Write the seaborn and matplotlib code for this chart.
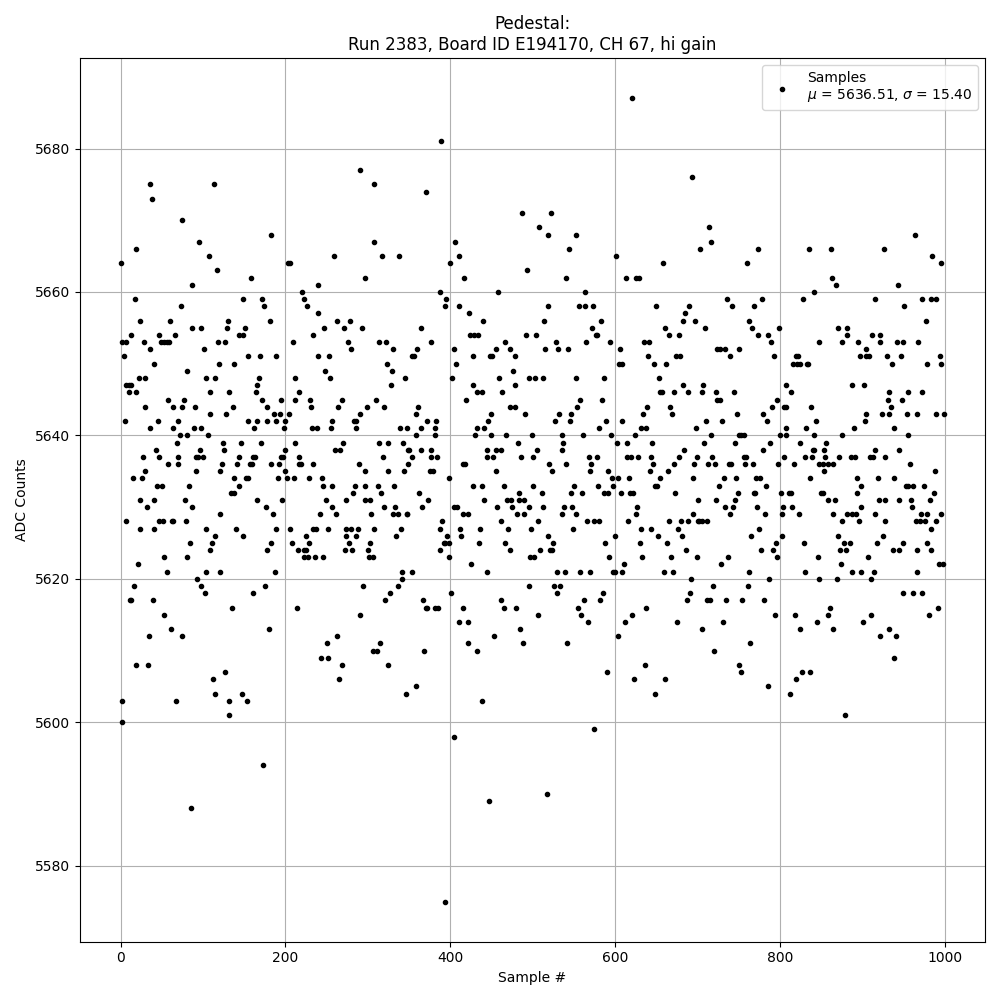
import pandas as pd
import matplotlib
matplotlib.use("Agg")
import matplotlib.pyplot as plt
import seaborn as sns

# ADC level for each row of sample_rows below
adc_levels = [
    5687, 5681, 5677, 5676, 5675, 5674, 5673, 5671, 5670, 5669, 5668, 5667, 5666, 5665, 5664, 5663,
    5662, 5661, 5660, 5659, 5658, 5657, 5656, 5655, 5654, 5653, 5652, 5651, 5650, 5649, 5648, 5647,
    5646, 5645, 5644, 5643, 5642, 5641, 5640, 5639, 5638, 5637, 5636, 5635, 5634, 5633, 5632, 5631,
    5630, 5629, 5628, 5627, 5626, 5625, 5624, 5623, 5622, 5621, 5620, 5619, 5618, 5617, 5616, 5615,
    5614, 5613, 5612, 5611, 5610, 5609, 5608, 5607, 5606, 5605, 5604, 5603, 5601, 5600, 5599, 5598,
    5594, 5590, 5589, 5588, 5575,
]

# sample numbers seen at each level
sample_rows = [
    [620],
    [389],
    [291],
    [693],
    [35, 113, 308],
    [370],
    [38],
    [487, 522],
    [75],
    [508, 714],
    [182, 519, 553, 964],
    [95, 307, 406, 716],
    [19, 544, 703, 773, 835, 862, 926],
    [107, 259, 317, 338, 411, 601, 985],
    [0, 203, 206, 400, 658, 760, 995],
    [117, 493],
    [158, 296, 417, 541, 613, 625, 629, 863],
    [86, 239, 868, 943],
    [220, 388, 458, 564, 841],
    [17, 148, 171, 222, 395, 736, 778, 828, 916, 972, 983, 990],
    [73, 174, 226, 394, 411, 518, 556, 564, 573, 650, 690, 742, 768, 951],
    [240, 423, 685],
    [24, 60, 130, 181, 262, 278, 440, 514, 583, 682, 697, 762, 977],
    [86, 97, 129, 151, 247, 271, 293, 365, 572, 661, 709, 766, 799, 870, 881],
    [13, 46, 66, 144, 149, 233, 424, 429, 434, 492, 504, 577, 578, 665, 678, 773, 785, 881, 912, 922],
    [2, 6, 28, 49, 52, 56, 59, 118, 126, 209, 276, 313, 322, 377, 467, 528, 565, 594, 635, 641, 789, 847, 875, 895, 921, 942, 949, 968],
    [36, 101, 279, 330, 360, 404, 456, 473, 515, 531, 543, 606, 724, 727, 733, 750, 904],
    [4, 154, 169, 189, 239, 253, 354, 356, 428, 448, 451, 478, 640, 674, 679, 739, 793, 819, 822, 897, 904, 908, 930, 947, 994],
    [40, 119, 137, 323, 407, 605, 609, 647, 662, 816, 821, 824, 833, 834, 936, 978, 995],
    [80, 248, 329, 476],
    [22, 29, 103, 114, 168, 212, 254, 345, 402, 459, 496, 503, 513, 553, 587, 653],
    [7, 10, 13, 165, 328, 428, 479, 682, 707, 807, 887, 902],
    [10, 18, 109, 132, 164, 217, 433, 438, 463, 655, 657, 671, 688, 705, 722, 744, 813, 932, 955, 973],
    [57, 77, 171, 194, 211, 230, 268, 310, 419, 558, 584, 724, 727, 796, 931, 948],
    [30, 63, 74, 90, 136, 177, 231, 264, 299, 319, 361, 472, 479, 554, 639, 667, 790, 805, 808, 838, 935],
    [108, 128, 186, 193, 204, 290, 359, 450, 491, 532, 547, 634, 669, 748, 779, 905, 924, 932, 954, 967, 989, 999],
    [5, 45, 69, 155, 166, 177, 188, 199, 256, 283, 286, 372, 383, 446, 527, 545, 589, 608, 710, 730, 784, 844, 903],
    [35, 64, 89, 97, 162, 198, 232, 238, 255, 285, 339, 347, 365, 382, 432, 441, 581, 632, 638, 698, 807, 832, 890, 938],
    [72, 80, 106, 358, 381, 430, 450, 468, 499, 536, 561, 595, 624, 716, 750, 753, 756, 800, 808, 842, 875, 956],
    [68, 124, 146, 170, 211, 270, 313, 324, 343, 482, 537, 602, 614, 645, 708, 745, 788, 825, 856],
    [43, 96, 125, 200, 260, 266, 349, 350, 364, 377, 445, 455, 462, 505, 535, 684, 779, 840, 841, 853, 915, 944],
    [27, 47, 70, 91, 94, 100, 143, 160, 163, 194, 197, 216, 318, 354, 376, 384, 444, 452, 486, 501, 568, 578, 615, 619, 628, 644, 678, 699, 718, 756, 759, 805, 830, 839, 855, 872, 886, 891, 909, 913, 928],
    [57, 69, 123, 141, 157, 159, 182, 192, 216, 219, 233, 289, 349, 416, 418, 520, 541, 571, 646, 672, 696, 713, 721, 738, 741, 758, 767, 798, 817, 848, 852, 858, 865, 958],
    [29, 91, 120, 199, 296, 324, 344, 375, 379, 456, 524, 570, 592, 642, 664, 853, 988],
    [15, 26, 137, 152, 154, 191, 202, 210, 228, 244, 398, 596, 604, 617, 655, 695, 732, 747, 771, 776, 836, 893, 919, 938],
    [44, 50, 83, 143, 245, 256, 284, 297, 312, 332, 427, 439, 465, 501, 550, 579, 598, 649, 651, 726, 783, 899, 953, 955, 962, 975],
    [134, 138, 282, 316, 362, 484, 511, 547, 560, 587, 592, 607, 618, 622, 673, 749, 768, 770, 801, 811, 813, 850, 852, 893, 987],
    [23, 41, 78, 165, 196, 249, 273, 296, 302, 373, 441, 469, 474, 484, 490, 701, 722, 745, 858, 867, 920, 927, 944, 959, 982],
    [32, 87, 176, 257, 319, 333, 366, 405, 408, 457, 475, 495, 513, 538, 548, 627, 733, 743, 772, 804, 815, 898, 960],
    [120, 185, 242, 261, 304, 330, 336, 347, 348, 415, 422, 481, 490, 536, 552, 625, 695, 739, 782, 802, 823, 864, 882, 887, 892, 915, 971, 979, 996],
    [6, 46, 51, 62, 63, 79, 390, 462, 507, 566, 575, 581, 616, 665, 680, 688, 701, 702, 705, 712, 876, 896, 927, 965, 970, 976, 989],
    [23, 40, 103, 140, 188, 205, 233, 237, 251, 273, 279, 288, 307, 340, 387, 412, 436, 470, 498, 549, 632, 644, 676, 775, 984],
    [114, 148, 225, 274, 285, 334, 396, 413, 519, 600, 652, 681, 765, 802, 870, 925],
    [84, 111, 183, 208, 228, 277, 302, 392, 394, 399, 435, 466, 525, 588, 630, 663, 795, 829, 878, 885, 918, 949, 978],
    [108, 178, 215, 222, 225, 272, 281, 300, 388, 473, 509, 521, 524, 686, 777, 792, 873, 880, 937, 945, 966, 983],
    [53, 81, 222, 227, 236, 245, 301, 306, 399, 497, 502, 593, 633, 668, 699, 737, 796, 846, 907],
    [21, 425, 611, 728, 874, 993, 998],
    [56, 104, 121, 187, 341, 353, 445, 530, 539, 558, 570, 598, 600, 608, 659, 670, 762, 830, 888, 898, 914, 966],
    [93, 341, 692, 787, 847, 869, 910],
    [16, 98, 175, 294, 336, 496, 526, 533, 719, 761],
    [102, 160, 327, 401, 530, 585, 691, 950, 961, 972],
    [11, 13, 39, 321, 367, 461, 562, 582, 687, 712, 715, 735, 754, 781],
    [135, 214, 370, 372, 382, 385, 416, 465, 480, 555, 638, 861, 992],
    [52, 290, 507, 559, 621, 794, 818, 859, 910, 981],
    [410, 422, 567, 612, 675, 731, 845, 901],
    [61, 180, 485, 705, 824, 864, 933],
    [34, 74, 262, 453, 604, 921, 941],
    [250, 315, 421, 488, 542, 764],
    [306, 311, 368, 432, 720],
    [243, 251, 939],
    [18, 33, 268, 325, 636, 750],
    [126, 590, 753, 827, 836],
    [112, 265, 623, 661, 819],
    [359, 785],
    [115, 147, 346, 648, 812],
    [1, 67, 131, 153, 439],
    [131, 879],
    [2],
    [575],
    [404],
    [173],
    [517],
    [447],
    [85],
    [393],
]

df = pd.DataFrame({"level": adc_levels, "sample": sample_rows}).explode("sample")
df["sample"] = df["sample"].astype(int)
df = df.sort_values("sample")

fig, ax = plt.subplots(figsize=(10, 10), dpi=100)

sns.scatterplot(
    data=df,
    x="sample",
    y="level",
    ax=ax,
    color="black",
    marker=".",
    s=36,
    edgecolor="black",
    linewidth=1,
    zorder=3,
    label="Samples\n$\\mu$ = 5636.51, $\\sigma$ = 15.40",
)

ax.set_title("Pedestal:\nRun 2383, Board ID E194170, CH 67, hi gain")
ax.set_xlabel("Sample #")
ax.set_ylabel("ADC Counts")
ax.grid(True)
ax.legend(loc="upper right")

fig.tight_layout()
fig.savefig("out.png", dpi=100)
